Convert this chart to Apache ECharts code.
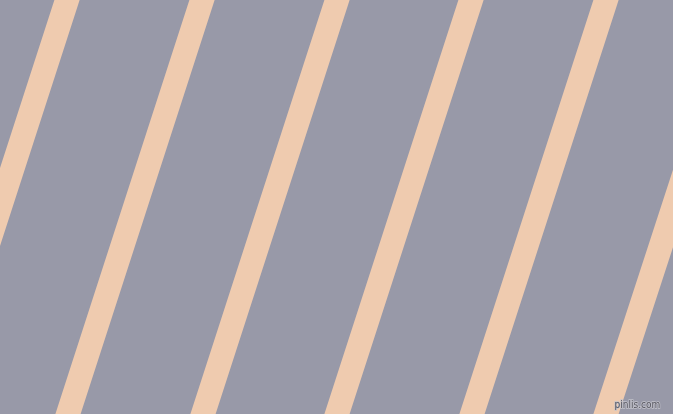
<!DOCTYPE html>
<html>
<head>
<meta charset="utf-8">
<script src="https://cdn.jsdelivr.net/npm/echarts@6/dist/echarts.min.js"></script>
<style>
  html, body { margin: 0; padding: 0; }
  #chart { width: 673px; height: 414px; }
</style>
</head>
<body>
<div id="chart"></div>
<script>
// stripe centres, x at the top edge (y = 0) and at the bottom edge (y = 414)
const stripeTopX = [67, 202, 337, 471, 606, 741]
const stripeBottomX = [-67, 68, 203, 337, 472, 606]
const edgeY = [0, 414]

const bgColor = '#9899a8'
const stripeColor = '#efcbaf'

const myChart = echarts.init(document.getElementById('chart'))

// square caps push the ends past the edges, the grid clip trims them
const series = stripeTopX.map((x, i) => ({
  type: 'line',
  symbol: 'none',
  silent: true,
  clip: true,
  data: [[x, edgeY[0]], [stripeBottomX[i], edgeY[1]]],
  lineStyle: { color: stripeColor, width: 24, cap: 'square' }
}))

myChart.setOption({
  animation: false,
  backgroundColor: bgColor,
  grid: { left: 0, right: 0, top: 0, bottom: 0 },
  xAxis: { type: 'value', min: 0, max: 673, show: false },
  yAxis: { type: 'value', min: 0, max: 414, inverse: true, show: false },
  graphic: [{
    type: 'text',
    right: 12,
    bottom: 3,
    z: 100,
    style: {
      text: 'pinlis.com',
      font: '10px "DejaVu Sans Condensed", "DejaVu Sans"',
      fill: '#55555f',
      stroke: '#c4c4cc',
      lineWidth: 1.5
    }
  }],
  series: series
})
</script>
</body>
</html>
